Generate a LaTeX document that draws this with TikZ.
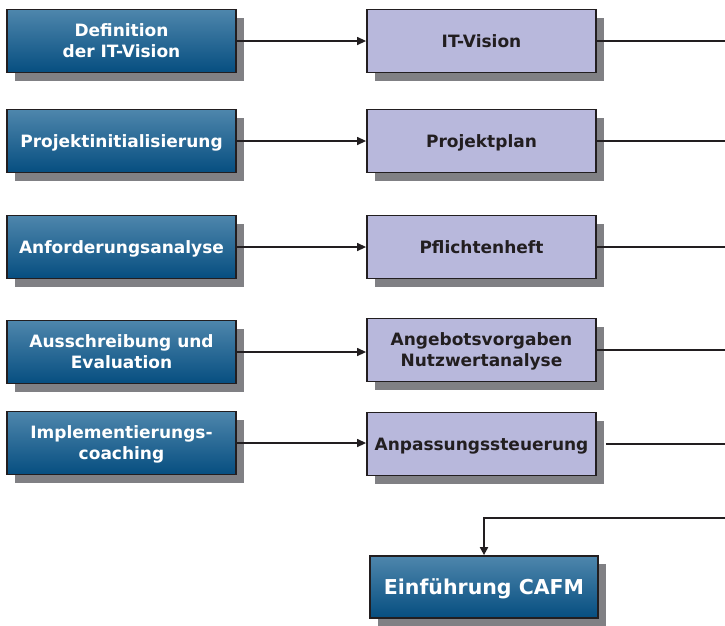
\documentclass[tikz,border=0pt]{standalone}
\usepackage{fontspec}
\setmainfont{DejaVu Sans}
\usetikzlibrary{shadows,arrows.meta}
\definecolor{lav}{RGB}{184,184,220}
\definecolor{btop}{RGB}{78,134,172}
\definecolor{bbot}{RGB}{6,78,128}
\definecolor{edge}{RGB}{34,30,32}
\definecolor{shd}{RGB}{128,128,132}
\tikzset{
  base/.style={draw=edge, line width=1.8pt, minimum width=229pt, minimum height=63pt, inner sep=2pt, align=center, text depth=0pt,
    drop shadow={shadow xshift=8pt, shadow yshift=-8pt, fill=shd, opacity=1}},
  bluebox/.style={base, top color=btop, bottom color=bbot, text=white, font=\bfseries\fontsize{17}{21}\selectfont},
  lavbox/.style={base, fill=lav, text=edge, font=\bfseries\fontsize{17}{21}\selectfont},
  conn/.style={draw=edge, line width=1.3pt, -{Triangle[length=9pt,width=8pt]}},
  outl/.style={draw=edge, line width=1.3pt},
}
\begin{document}
\begin{tikzpicture}[x=1pt,y=-1pt]
\useasboundingbox (0,0) rectangle (725,625);
\node[bluebox] (l1) at (121.5,41) {Definition\\der IT-Vision};
\node[bluebox] (l2) at (121.5,141) {Projektinitialisierung};
\node[bluebox] (l3) at (121.5,247) {Anforderungsanalyse};
\node[bluebox] (l4) at (121.5,352) {Ausschreibung und\\Evaluation};
\node[bluebox] (l5) at (121.5,443) {Implementierungs-\\coaching};
\node[lavbox] (r1) at (481.5,41) {IT-Vision};
\node[lavbox] (r2) at (481.5,141) {Projektplan};
\node[lavbox] (r3) at (481.5,247) {Pflichtenheft};
\node[lavbox] (r4) at (481.5,350) {Angebotsvorgaben\\Nutzwertanalyse};
\node[lavbox] (r5) at (481.5,444) {Anpassungssteuerung};
\node[bluebox, minimum width=228pt, minimum height=62pt, font=\bfseries\fontsize{20.5}{24}\selectfont] (cafm) at (484,587) {Einführung CAFM};
\foreach \i in {1,...,5}{
  \draw[conn] (l\i.east) -- (r\i.west |- l\i.east);
}
\coordinate (e1) at (725,41);
\coordinate (e2) at (725,141);
\coordinate (e3) at (725,247);
\coordinate (e4) at (725,350);
\coordinate (e5) at (725,444);
\coordinate (eb) at (725,518);
\draw[outl, line width=2pt] (r1.east) -- (e1);
\draw[outl] (r2.east) -- (e2);
\draw[outl] (r3.east) -- (e3);
\draw[outl] (r4.east) -- (e4);
\draw[outl] ([xshift=9pt]r5.east) -- (e5);
\draw[draw=edge, line width=2.4pt, -{Triangle[length=8pt,width=8pt]}] (eb) -| (cafm.north);
\end{tikzpicture}
\end{document}
